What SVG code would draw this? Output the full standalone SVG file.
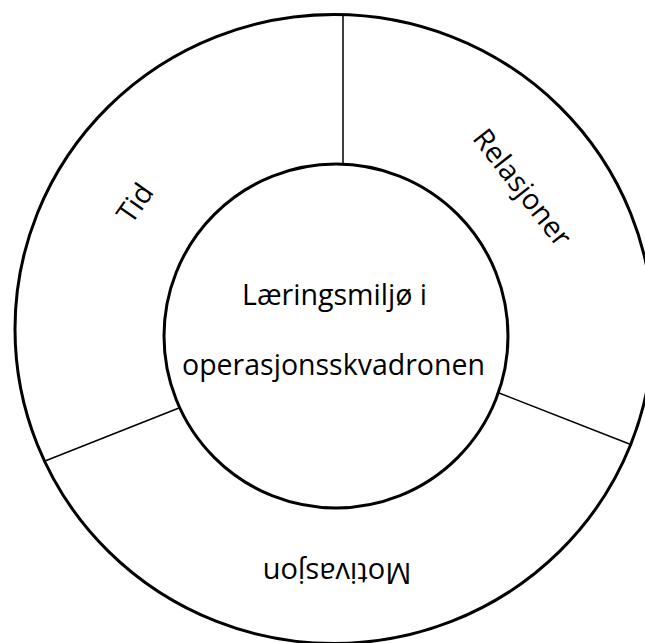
<svg xmlns="http://www.w3.org/2000/svg" width="645" height="643" viewBox="0 0 645 643">
<style>
.ring{fill:none;stroke:#000;stroke-width:3}
.inner{fill:#fff;stroke:#000;stroke-width:3}
.div{stroke:#000;stroke-width:1.5;fill:none}
text{font-family:"Open Sans","Liberation Sans",sans-serif;font-size:28.5px;fill:#000;text-anchor:middle}
</style>
<rect width="645" height="643" fill="#fff"/>
<g id="outer-ring">
<ellipse class="ring" cx="334" cy="329" rx="319" ry="314.5"/>
</g>
<g id="connectors">
<line class="div" x1="343" y1="15" x2="343" y2="165"/>
<line class="div" x1="45" y1="461" x2="179" y2="408"/>
<line class="div" x1="499" y1="393" x2="632" y2="445"/>
</g>
<g id="center">
<circle class="inner" cx="336" cy="336" r="172"/>
<text x="334.5" y="305" textLength="185" lengthAdjust="spacingAndGlyphs">Læringsmiljø i</text>
<text x="333.5" y="375" textLength="303" lengthAdjust="spacingAndGlyphs">operasjonsskvadronen</text>
</g>
<g id="tid">
<text transform="translate(135 203) rotate(-55)" x="0" y="10">Tid</text>
</g>
<g id="relasjoner">
<text transform="translate(522.5 187.5) rotate(52)" x="0" y="10">Relasjoner</text>
</g>
<g id="motivasjon">
<text transform="rotate(180 337 573)" x="337" y="583" textLength="149" lengthAdjust="spacingAndGlyphs">Motivasjon</text>
</g>
</svg>
